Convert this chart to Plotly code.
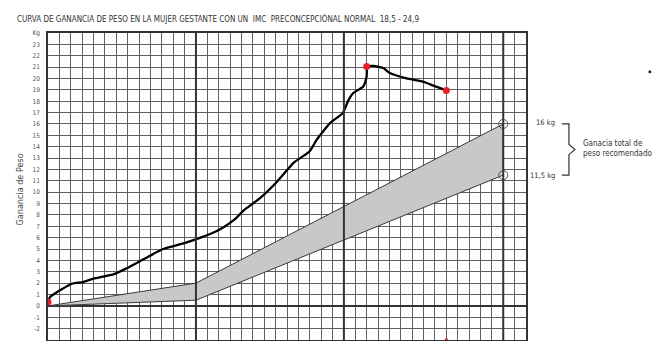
import plotly.graph_objects as go

# ---- data ----
weeks = [0, 0.2, 1.1, 2.1, 3.1, 4.0, 5.8, 6.9, 8.4, 10.1, 11.9, 13.1, 14.3, 15.4, 16.4, 17.2,
         18.6, 20.1, 21.6, 23.0, 23.6, 24.8, 25.9, 26.4, 26.8, 27.7, 28.0, 28.05, 28.6, 29.5,
         30.0, 31.5, 33.0, 33.8, 35.0]
gain = [0.35, 0.8, 1.4, 1.95, 2.1, 2.4, 2.8, 3.3, 4.1, 5.0, 5.5, 5.9, 6.35, 6.9, 7.6, 8.4,
        9.45, 10.9, 12.6, 13.6, 14.6, 16.1, 16.95, 18.1, 18.7, 19.3, 20.2, 21.05, 21.1, 20.9,
        20.5, 20.0, 19.7, 19.4, 18.95]
marked_weeks = [0, 28.0, 35.0]
marked_gain = [0.35, 21.05, 18.95]

band_weeks = [0, 13, 40]
band_low = [0, 0.5, 11.5]
band_high = [0, 2, 16]
target_weeks = [40, 40]
target_gain = [16, 11.5]

trimester_weeks = [13, 26, 40]
ytick_vals = list(range(-3, 25))
ytick_text = [str(v) for v in range(-3, 24)] + ["Kg"]

title = "CURVA DE GANANCIA DE PESO EN LA MUJER GESTANTE CON UN  IMC  PRECONCEPCIÓNAL NORMAL  18,5 - 24,9"
ytitle = "Ganancia de Peso"

FONT = "DejaVu Sans Condensed, Liberation Sans Narrow, Liberation Sans, sans-serif"

fig = go.Figure()

# band polygon
fig.add_trace(go.Scatter(
    x=band_weeks + band_weeks[::-1],
    y=band_low + band_high[::-1],
    fill="toself", fillcolor="#c8c8c8",
    line=dict(color="#3a3a3a", width=1),
    mode="lines", hoverinfo="skip", showlegend=False))

fig.add_trace(go.Scatter(
    x=target_weeks, y=target_gain, mode="markers",
    marker=dict(symbol="circle-open", size=9, color="#555555", line=dict(width=1)),
    showlegend=False))

# weight curve
fig.add_trace(go.Scatter(
    x=weeks, y=gain, mode="lines",
    line=dict(color="black", width=2.3, shape="spline", smoothing=0.5),
    showlegend=False))

fig.add_trace(go.Scatter(
    x=marked_weeks, y=marked_gain, mode="markers",
    marker=dict(color="#e8202a", size=7), showlegend=False))

fig.add_trace(go.Scatter(
    x=[35.0], y=[-3.0], mode="markers", cliponaxis=False,
    marker=dict(color="#e8202a", size=3, symbol="square"), showlegend=False))

shapes = []
for w in trimester_weeks:
    shapes.append(dict(type="line", xref="x", yref="paper", x0=w, x1=w, y0=0, y1=1,
                       line=dict(color="#333333", width=2), layer="above"))

# bracket on the right
xl, xr, xm = 1.0 + (562 - 526) / 478.5, 1.0 + (569 - 526) / 478.5, 1.0 + (575 - 526) / 478.5
shapes.append(dict(
    type="path", xref="paper", yref="y",
    path=f"M {xl},16 L {xr},16 L {xr},14.2 L {xm},13.75 L {xr},13.3 L {xr},11.5 L {xl},11.5",
    line=dict(color="#333333", width=1.2)))

# stray dot
shapes.append(dict(type="circle", xref="paper", yref="paper",
                   x0=(648.5 - 47.5) / 478.5, x1=(651.5 - 47.5) / 478.5,
                   y0=(339.8 - 73.5) / 306.5, y1=(339.8 - 70.5) / 306.5,
                   fillcolor="#222222", line=dict(width=0)))

annotations = [
    dict(text=title, xref="paper", yref="paper", x=(14 - 47.5) / 478.5, y=(339.8 - 19) / 306.5,
         xanchor="left", yanchor="middle", showarrow=False,
         font=dict(family=FONT, size=8, color="#333333")),
    dict(text=ytitle, xref="paper", yref="paper", x=(19 - 47.5) / 478.5, y=(339.8 - 190) / 306.5,
         textangle=-90, xanchor="center", yanchor="middle", showarrow=False,
         font=dict(family=FONT, size=9, color="#444444")),
    dict(text="16 kg", xref="paper", yref="y", x=1.0 + (557 - 526) / 478.5, y=16.1,
         xanchor="right", yanchor="middle", showarrow=False,
         font=dict(family=FONT, size=7.5, color="#333333")),
    dict(text="11,5 kg", xref="paper", yref="y", x=1.0 + (557 - 526) / 478.5, y=11.5,
         xanchor="right", yanchor="middle", showarrow=False,
         font=dict(family=FONT, size=7.5, color="#333333")),
    dict(text="Ganacia total de<br>peso recomendado", xref="paper", yref="y",
         x=1.0 + (581 - 526) / 478.5, y=13.8, xanchor="left", yanchor="middle", align="left",
         showarrow=False, font=dict(family=FONT, size=8, color="#333333")),
]

fig.update_layout(
    width=663, height=341,
    margin=dict(l=48, r=137, t=33, b=1),
    paper_bgcolor="white", plot_bgcolor="white",
    shapes=shapes, annotations=annotations,
    xaxis=dict(range=[0, 42], dtick=1, tick0=0, showgrid=True, gridcolor="#606060", gridwidth=1,
               showticklabels=False, zeroline=False, showline=True, linecolor="#333333",
               linewidth=1.5, mirror=True, fixedrange=True),
    yaxis=dict(range=[-3, 24], tickvals=ytick_vals, ticktext=ytick_text, showgrid=True,
               gridcolor="#606060", gridwidth=1, zeroline=True, zerolinecolor="#333333",
               zerolinewidth=2, showline=True, linecolor="#333333", linewidth=1.5, mirror=True,
               ticks="", ticklabelstandoff=5,
               tickfont=dict(family=FONT, size=6.5, color="#555555"), fixedrange=True),
)

fig.write_html("out.html", config={"displayModeBar": False},
               post_script="document.body.style.margin='0px';document.body.style.overflow='hidden';")
